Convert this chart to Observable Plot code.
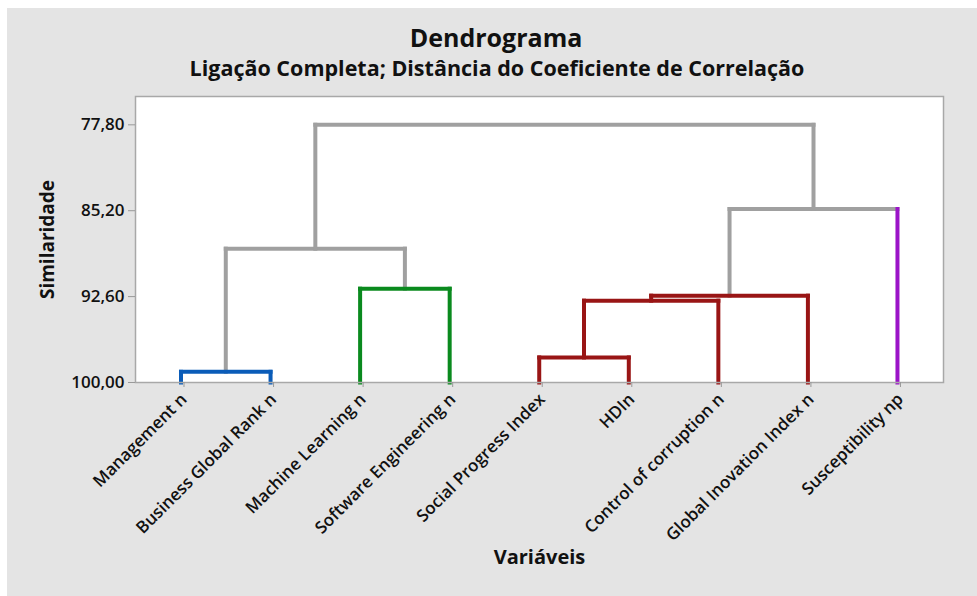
<!DOCTYPE html>
<html>
<head>
<meta charset="utf-8">
<script src="https://cdn.jsdelivr.net/npm/d3@7"></script>
<script src="https://cdn.jsdelivr.net/npm/@observablehq/plot@0.6"></script>
<style>
html, body { margin: 0; padding: 0; background: #ffffff; }
#wrap {
  position: absolute; left: 7px; top: 8px; width: 970px; height: 588px;
  background: #e4e4e4; font-family: "Open Sans", sans-serif; color: #111;
  overflow: hidden;
}
#title {
  margin-top: 14px; height: 30px; line-height: 30px; font-size: 25px; font-weight: bold;
  text-align: center; padding-left: 8px;
}
#subtitle {
  margin-top: 3px; height: 25px; line-height: 25px; font-size: 21.5px; font-weight: bold;
  text-align: center; padding-left: 10px;
}
#chart svg { display: block; }
</style>
</head>
<body>
<div id="wrap">
  <div id="title">Dendrograma</div>
  <div id="subtitle">Ligação Completa; Distância do Coeficiente de Correlação</div>
  <div id="chart"></div>
</div>
<script>
// Leaves (left to right) and their cluster ids
const leaves = [
  "Management n", "Business Global Rank n", "Machine Learning n", "Software Engineering n",
  "Social Progress Index", "HDIn", "Control of corruption n", "Global Inovation Index n", "Susceptibility np"
];
const leafCluster = [1, 1, 2, 2, 3, 3, 3, 3, 4];

// Merges: node ids 0-8 are leaves, merge k creates node 9+k
const mergeA = [0, 2, 4, 11, 12, 13, 9, 15];
const mergeB = [1, 3, 5, 6, 7, 8, 10, 14];
const mergeSim = [99.08, 91.92, 97.84, 92.95, 92.52, 85.05, 88.47, 77.80];
const mergeCluster = [1, 2, 3, 3, 3, 0, 0, 0];

// Y axis ticks
const yTicks = [77.80, 85.20, 92.60, 100.00];

const clusterIds = [0, 1, 2, 3, 4];
const clusterColors = ["#a0a0a0", "#0b5cb8", "#0a8a1e", "#991515", "#9b14c8"];

// Build node positions
const pos = leaves.map((_, i) => ({x: i, h: 100}));
mergeA.forEach((a, k) => {
  const b = mergeB[k];
  pos.push({x: (pos[a].x + pos[b].x) / 2, h: mergeSim[k]});
});

// Build segments
const segs = [];
mergeA.forEach((a, k) => {
  const b = mergeB[k];
  const s = mergeSim[k];
  const c = mergeCluster[k];
  for (const ch of [a, b]) {
    const col = (c === 0 && ch < leaves.length) ? leafCluster[ch] : c;
    segs.push({x1: pos[ch].x, y1: pos[ch].h, x2: pos[ch].x, y2: s, cluster: col});
  }
  segs.push({x1: pos[a].x, y1: s, x2: pos[b].x, y2: s, cluster: c});
});
segs.sort((p, q) => (p.cluster === 0 ? 0 : 1) - (q.cluster === 0 ? 0 : 1));

const chart = Plot.plot({
  width: 970,
  height: 516,
  marginLeft: 128,
  marginRight: 34,
  marginTop: 16,
  marginBottom: 214,
  style: {background: "transparent", fontFamily: "Open Sans, sans-serif", color: "#111", overflow: "visible"},
  x: {type: "linear", domain: [-0.508, 8.514]},
  y: {type: "linear", domain: [100, 75.36]},
  color: {domain: clusterIds, range: clusterColors},
  marks: [
    Plot.frame({fill: "white", stroke: null}),
    Plot.link(segs, {x1: "x1", y1: "y1", x2: "x2", y2: "y2", stroke: "cluster", strokeWidth: 4, strokeLinecap: "square"}),
    Plot.frame({stroke: "#a8a8a8", strokeWidth: 1.5}),
    Plot.axisY({ticks: yTicks, tickFormat: d => d.toFixed(2).replace(".", ","), tickSize: 7, tickPadding: 4,
      fontSize: 17, fontWeight: 600, stroke: "#999", fill: "#111", label: null}),
    Plot.axisX({ticks: d3.range(leaves.length), tickFormat: i => leaves[i], tickRotate: -45, tickSize: 5,
      tickPadding: 9, dx: 3, fontSize: 17, fontWeight: 600, stroke: "#999", fill: "#111", label: null}),
    Plot.text(["Similaridade"], {frameAnchor: "left", dx: -88, rotate: -90, textAnchor: "middle", fontSize: 19, fontWeight: "bold", fill: "#111"}),
    Plot.text(["Variáveis"], {frameAnchor: "bottom", dy: 181, fontSize: 20, fontWeight: "bold", fill: "#111"})
  ]
});
document.getElementById("chart").appendChild(chart);
</script>
</body>
</html>
